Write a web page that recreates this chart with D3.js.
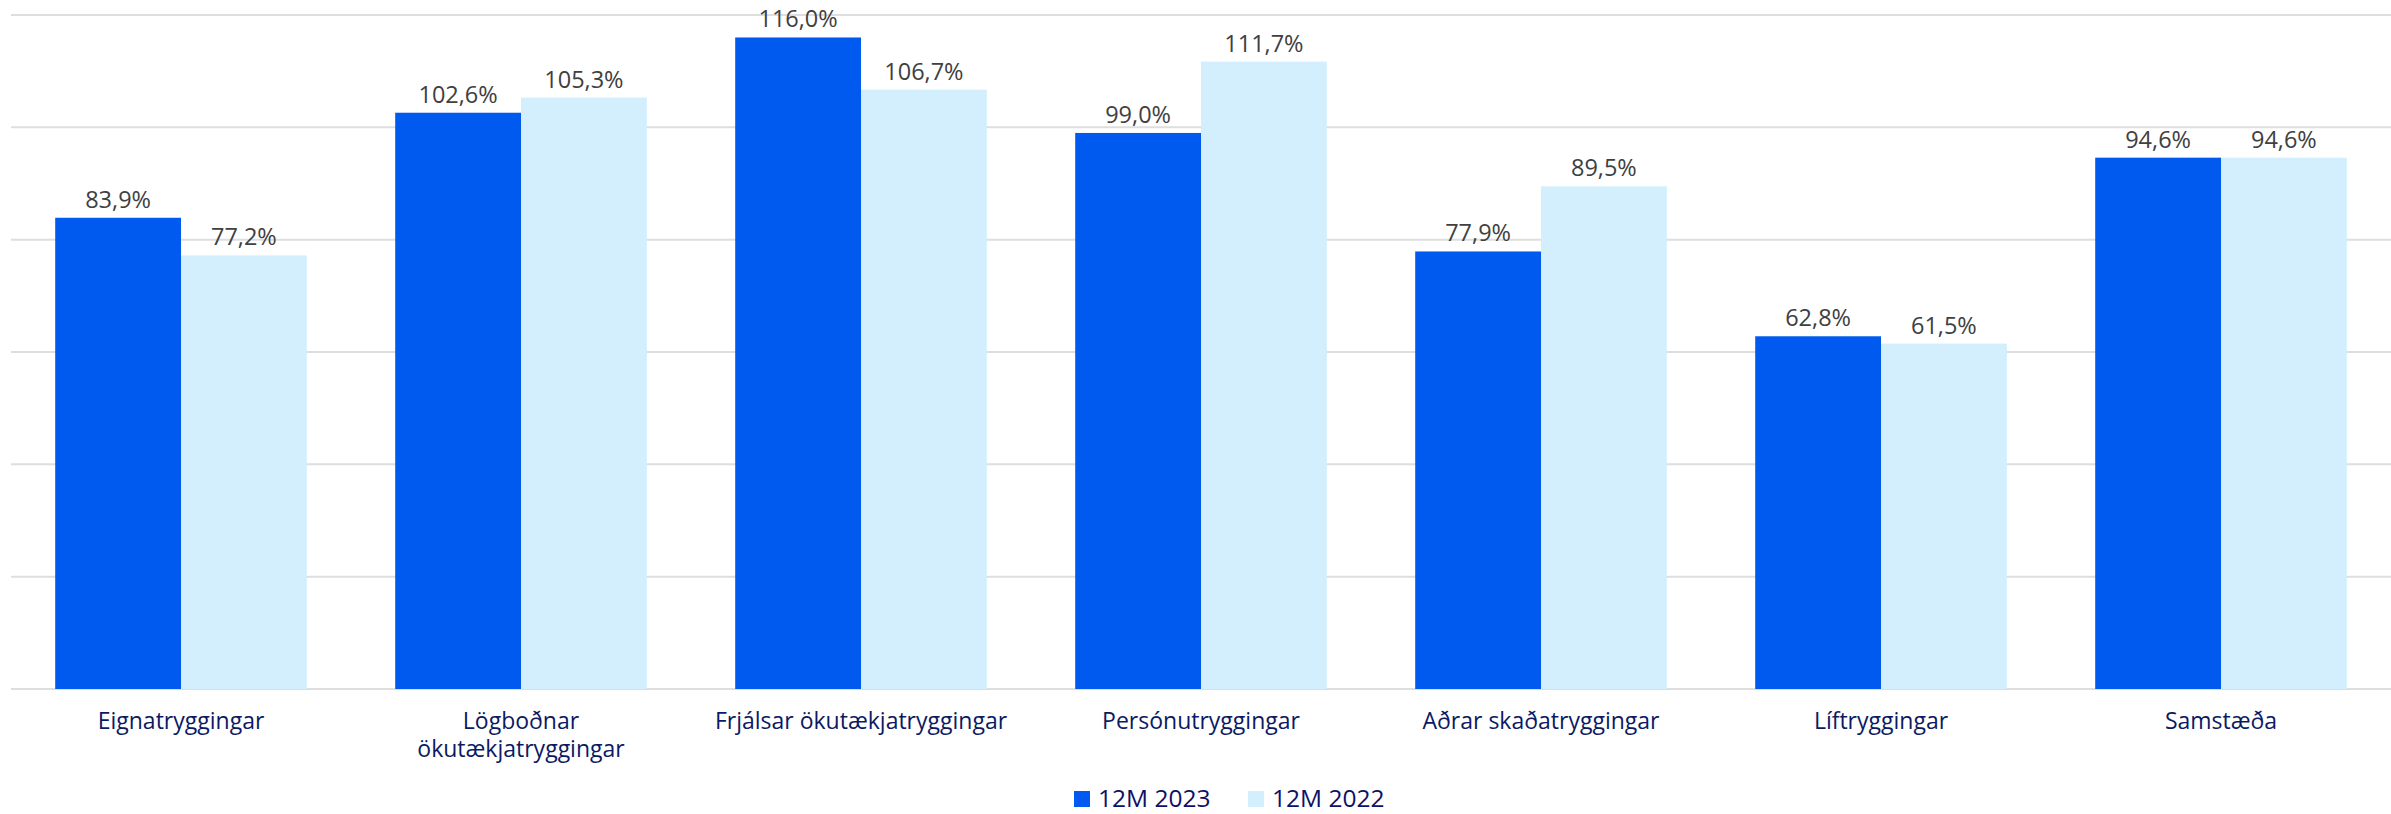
<!DOCTYPE html>
<html>
<head>
<meta charset="utf-8">
<script src="https://cdn.jsdelivr.net/npm/d3@7"></script>
<style>
  html, body { margin: 0; padding: 0; background: #fff; }
  svg { display: block; }
</style>
</head>
<body>
<svg id="chart" width="2391" height="814"></svg>
<script>
const categories = [
  "Eignatryggingar",
  "Lögboðnar\nökutækjatryggingar",
  "Frjálsar ökutækjatryggingar",
  "Persónutryggingar",
  "Aðrar skaðatryggingar",
  "Líftryggingar",
  "Samstæða"
];
const seriesNames = ["12M 2023", "12M 2022"];
const values2023 = [83.9, 102.6, 116.0, 99.0, 77.9, 62.8, 94.6];
const values2022 = [77.2, 105.3, 106.7, 111.7, 89.5, 61.5, 94.6];
const yTicks = [0, 20, 40, 60, 80, 100, 120];

const colors = ["#005AEF", "#D3EFFD"];
const W = 2391, H = 814;
const margin = { left: 11, right: 0, top: 15, bottom: 125 };

const svg = d3.select("#chart");
const x0 = d3.scaleBand().domain(categories).range([margin.left, W - margin.right])
  .paddingInner(0.26).paddingOuter(0.13);
const x1 = d3.scaleBand().domain(seriesNames).range([0, x0.bandwidth()]);
const y = d3.scaleLinear().domain([0, 120]).range([H - margin.bottom, margin.top]);

// gridlines
svg.append("g").selectAll("line").data(yTicks).join("line")
  .attr("x1", margin.left).attr("x2", W)
  .attr("y1", d => y(d)).attr("y2", d => y(d))
  .attr("stroke", "#dedede").attr("stroke-width", 2);

const data = categories.map((c, i) => ({ cat: c, vals: [values2023[i], values2022[i]] }));

const groups = svg.append("g").selectAll("g").data(data).join("g")
  .attr("transform", d => `translate(${x0(d.cat)},0)`);

groups.selectAll("rect").data(d => d.vals.map((v, j) => ({ v, s: seriesNames[j], j }))).join("rect")
  .attr("x", d => x1(d.s)).attr("width", x1.bandwidth())
  .attr("y", d => y(d.v)).attr("height", d => y(0) - y(d.v))
  .attr("fill", d => colors[d.j]);

groups.selectAll("text.val").data(d => d.vals.map((v, j) => ({ v, s: seriesNames[j], j }))).join("text")
  .attr("class", "val")
  .attr("x", d => x1(d.s) + x1.bandwidth() / 2)
  .attr("y", d => y(d.v) - 10)
  .attr("text-anchor", "middle")
  .attr("font-family", "Open Sans, sans-serif")
  .attr("font-size", 23.5)
  .attr("fill", "#404040")
  .text(d => d.v.toFixed(1).replace(".", ",") + "%");

// category labels
const catG = svg.append("g");
categories.forEach(c => {
  const lines = c.split("\n");
  const t = catG.append("text")
    .attr("x", x0(c) + x0.bandwidth() / 2)
    .attr("y", y(0) + 40)
    .attr("text-anchor", "middle")
    .attr("font-family", "Open Sans, sans-serif")
    .attr("font-size", 23)
    .attr("fill", "#0B1A63");
  lines.forEach((l, k) => {
    t.append("tspan").attr("x", x0(c) + x0.bandwidth() / 2).attr("dy", k === 0 ? 0 : 28).text(l);
  });
});

// legend
const legend = svg.append("g");
const legendX = [1074, 1248];
seriesNames.forEach((s, i) => {
  legend.append("rect").attr("x", legendX[i]).attr("y", 791).attr("width", 16).attr("height", 16)
    .attr("fill", colors[i]);
  legend.append("text").attr("x", legendX[i] + 24).attr("y", 807)
    .attr("font-family", "Open Sans, sans-serif").attr("font-size", 24.5)
    .attr("fill", "#0C1268").text(s);
});
</script>
</body>
</html>
